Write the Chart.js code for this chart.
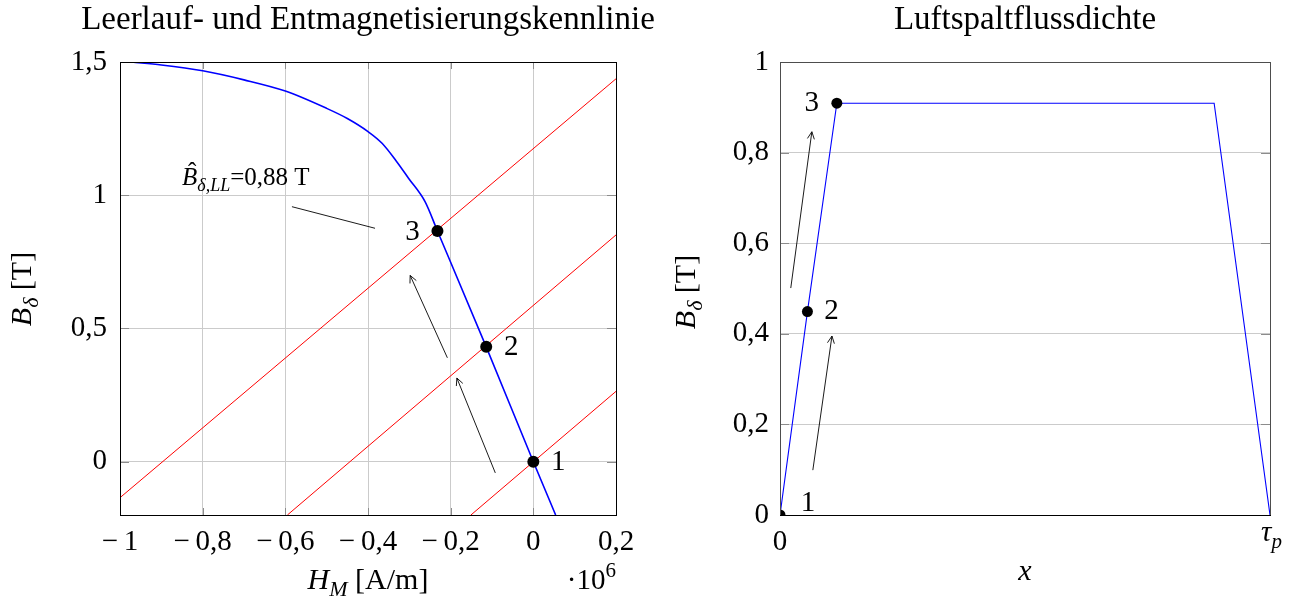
<!DOCTYPE html>
<html>
<head>
<meta charset="utf-8">
<script src="https://cdn.jsdelivr.net/npm/chart.js@4/dist/chart.umd.min.js"></script>
<style>
  html, body { margin: 0; padding: 0; background: #fff; }
  #wrap { position: relative; width: 1299px; height: 603px; }
  #left, #right { position: absolute; top: 0; }
  #left { left: 0; }
  #right { left: 650px; }
</style>
</head>
<body>
<div id="wrap">
  <canvas id="left" width="680" height="603"></canvas>
  <canvas id="right" width="649" height="603"></canvas>
</div>
<script>
const SERIF = '"Liberation Serif", "DejaVu Serif", serif';

// Entmagnetisierungskennlinie, H in 1e6 A/m, B in T
const hDemag = [-0.972, -0.9, -0.8, -0.7, -0.6, -0.5, -0.45, -0.4, -0.366, -0.33, -0.302, -0.262, -0.232, -0.114, 0, 0.054];
const bDemag = [1.5, 1.489, 1.467, 1.433, 1.391, 1.326, 1.288, 1.239, 1.195, 1.125, 1.064, 0.976, 0.866, 0.431, 0, -0.2];

// Arbeitsgeraden (Anfangs- und Endpunkt)
const hLine1 = [-0.151, 0.2];
const bLine1 = [-0.2, 0.264];
const hLine2 = [-0.595, 0.2];
const bLine2 = [-0.2, 0.851];
const hLine3 = [-1, 0.2];
const bLine3 = [-0.135, 1.437];

// Arbeitspunkte 1..3
const opNames = ['1', '2', '3'];
const hOp = [0, -0.114, -0.232];
const bOp = [0, 0.431, 0.866];

// Luftspaltflussdichte über x, x bezogen auf tau_p
const xGap = [0, 0.056, 0.116, 0.886, 1];
const bGap = [0, 0.449, 0.909, 0.909, 0];
const xGapOp = [0, 0.056, 0.116];
const bGapOp = [0, 0.449, 0.909];

// Achsenteilung
const demagTicksX = [-1, -0.8, -0.6, -0.4, -0.2, 0, 0.2];
const demagTicksY = [0, 0.5, 1, 1.5];
const gapTicksX = [0, 1];
const gapTicksY = [0, 0.2, 0.4, 0.6, 0.8, 1];

const xy = (xs, ys) => xs.map((x, i) => ({ x, y: ys[i] }));

function fmt(v) {
  const s = String(Math.round(Math.abs(v) * 10) / 10).replace('.', ',');
  return v < 0 ? '\u2212\u2009' + s : s;
}

// kleine Formelsatz-Hilfe: Folge von Textstücken, kursiv / tief- / hochgestellt
function fontOf(r, size) {
  const px = Math.round(r.sub || r.sup ? size * 0.72 : size);
  return (r.it ? 'italic ' : '') + px + 'px ' + SERIF;
}
function measure(ctx, runs, size) {
  let w = 0;
  runs.forEach(r => { ctx.font = fontOf(r, size); r.w = ctx.measureText(r.t).width; w += r.w; });
  return w;
}
function drawRuns(ctx, runs, x, y, size, align) {
  const w = measure(ctx, runs, size);
  if (align === 'center') x -= w / 2;
  if (align === 'right') x -= w;
  ctx.textAlign = 'left';
  ctx.textBaseline = 'alphabetic';
  runs.forEach(r => {
    ctx.font = fontOf(r, size);
    let dy = 0;
    if (r.sub) dy = size * 0.24;
    if (r.sup) dy = -size * 0.4;
    ctx.fillText(r.t, x, y + dy);
    if (r.hat) {
      ctx.font = size + 'px ' + SERIF;
      ctx.textAlign = 'center';
      ctx.fillText('\u02C6', x + r.w / 2 + size * 0.1, y - size * 0.2);
      ctx.textAlign = 'left';
    }
    x += r.w;
  });
  return w;
}
function drawRotated(ctx, runs, cx, cy, size) {
  ctx.save();
  ctx.translate(cx, cy);
  ctx.rotate(-Math.PI / 2);
  drawRuns(ctx, runs, 0, 0, size, 'center');
  ctx.restore();
}

function arrow(ctx, x0, y0, x1, y1, head) {
  ctx.beginPath();
  ctx.moveTo(x0, y0);
  ctx.lineTo(x1, y1);
  if (head) {
    const a = Math.atan2(y1 - y0, x1 - x0), L = 8;
    ctx.moveTo(x1 - L * Math.cos(a - 0.45), y1 - L * Math.sin(a - 0.45));
    ctx.lineTo(x1, y1);
    ctx.lineTo(x1 - L * Math.cos(a + 0.45), y1 - L * Math.sin(a + 0.45));
  }
  ctx.stroke();
}

// Rahmen, innenliegende Teilstriche, Pfeile, Punktnummern und Beschriftungen
const decor = {
  id: 'decor',
  afterDraw(chart, args, o) {
    const ctx = chart.ctx, a = chart.chartArea;
    const sx = chart.scales.x, sy = chart.scales.y;
    ctx.save();

    ctx.lineWidth = 1;
    ctx.strokeStyle = '#8c8c8c';
    ctx.beginPath();
    if (o.innerTicksX) sx.ticks.forEach(t => {
      const p = Math.round(sx.getPixelForValue(t.value)) + 0.5;
      ctx.moveTo(p, a.top); ctx.lineTo(p, a.top + 7);
      ctx.moveTo(p, a.bottom); ctx.lineTo(p, a.bottom - 7);
    });
    sy.ticks.forEach(t => {
      const p = Math.round(sy.getPixelForValue(t.value)) + 0.5;
      ctx.moveTo(a.left, p); ctx.lineTo(a.left + 9, p);
      ctx.moveTo(a.right, p); ctx.lineTo(a.right - 9, p);
    });
    ctx.stroke();

    ctx.strokeStyle = o.frame;
    ctx.strokeRect(Math.round(a.left) + 0.5, Math.round(a.top) + 0.5, Math.round(a.width), Math.round(a.height));
    ctx.strokeStyle = '#000';
    ctx.beginPath();
    ctx.moveTo(a.left, Math.round(a.bottom) + 0.5);
    ctx.lineTo(a.right + 1, Math.round(a.bottom) + 0.5);
    ctx.stroke();

    ctx.strokeStyle = '#000';
    ctx.lineWidth = 0.9;
    o.arrows.forEach(r => arrow(ctx,
      sx.getPixelForValue(r.from[0]), sy.getPixelForValue(r.from[1]),
      sx.getPixelForValue(r.to[0]), sy.getPixelForValue(r.to[1]), r.head));

    // Nummern an den Arbeitspunkten
    const ds = chart.data.datasets[0];
    const meta = chart.getDatasetMeta(0);
    ctx.fillStyle = '#000';
    ctx.font = '29px ' + SERIF;
    ctx.textAlign = 'center';
    ctx.textBaseline = 'middle';
    meta.data.forEach((pt, i) => {
      const off = o.nameOffsets[i];
      ctx.fillText(ds.names[i], pt.x + off[0], pt.y + off[1]);
    });

    o.texts(ctx, a);
    ctx.restore();
  }
};

function baseScales(ticksX, ticksY, fitLeft, fitBottom, gridX, padX, padY) {
  return {
    x: {
      type: 'linear',
      min: ticksX[0], max: ticksX[ticksX.length - 1],
      afterBuildTicks: s => { s.ticks = ticksX.map(v => ({ value: v })); },
      afterFit: s => { s.height = fitBottom; },
      ticks: { color: '#000', font: { family: SERIF, size: 29 }, padding: padX, maxRotation: 0, callback: fmt },
      grid: { display: gridX, color: '#cbcbcb', drawTicks: false },
      border: { display: false }
    },
    y: {
      type: 'linear',
      afterBuildTicks: s => { s.ticks = ticksY.map(v => ({ value: v })); },
      afterFit: s => { s.width = fitLeft; },
      ticks: { color: '#000', font: { family: SERIF, size: 29 }, padding: padY, callback: fmt },
      grid: { color: '#cbcbcb', drawTicks: false },
      border: { display: false }
    }
  };
}

const common = {
  responsive: false,
  animation: false,
  events: [],
  plugins: { legend: { display: false }, tooltip: { enabled: false } }
};

// linkes Diagramm
const leftScales = baseScales(demagTicksX, demagTicksY, 120, 88, true, 10, 13);
leftScales.y.min = -0.2;
leftScales.y.max = 1.5;

new Chart(document.getElementById('left'), {
  type: 'scatter',
  data: {
    datasets: [
      { label: 'Arbeitspunkte', names: opNames, data: xy(hOp, bOp), pointRadius: 6,
        pointBackgroundColor: '#000', pointBorderWidth: 0, order: 0 },
      { label: 'Kennlinie', data: xy(hDemag, bDemag), showLine: true, borderColor: '#0000ff',
        borderWidth: 1.6, pointRadius: 0, cubicInterpolationMode: 'monotone', order: 1 },
      { label: 'Gerade 1', data: xy(hLine1, bLine1), showLine: true, borderColor: '#ff0000', borderWidth: 1, pointRadius: 0, order: 2 },
      { label: 'Gerade 2', data: xy(hLine2, bLine2), showLine: true, borderColor: '#ff0000', borderWidth: 1, pointRadius: 0, order: 2 },
      { label: 'Gerade 3', data: xy(hLine3, bLine3), showLine: true, borderColor: '#ff0000', borderWidth: 1, pointRadius: 0, order: 2 }
    ]
  },
  options: Object.assign({}, common, {
    layout: { padding: { left: 0, right: 64, top: 62, bottom: 0 } },
    scales: leftScales,
    plugins: Object.assign({}, common.plugins, {
      decor: {
        frame: '#000',
        innerTicksX: true,
        nameOffsets: [[25, 1], [25, 1], [-25, 1]],
        arrows: [
          { from: [-0.208, 0.39], to: [-0.298, 0.699], head: true },
          { from: [-0.092, -0.042], to: [-0.185, 0.314], head: true },
          { from: [-0.584, 0.957], to: [-0.383, 0.876], head: false }
        ],
        texts(ctx, a) {
          ctx.fillStyle = '#000';
          const cx = (a.left + a.right) / 2;
          drawRuns(ctx, [{ t: 'Leerlauf- und Entmagnetisierungskennlinie' }], cx, 29, 33, 'center');
          drawRuns(ctx, [{ t: 'B', it: true, hat: true }, { t: 'δ,LL', it: true, sub: true }, { t: '=0,88 T' }], 182, 185, 25, 'left');
          drawRuns(ctx, [{ t: 'H', it: true }, { t: 'M', it: true, sub: true }, { t: ' [A/m]' }], cx, 589, 30, 'center');
          drawRuns(ctx, [{ t: '·10' }, { t: '6', sup: true }], a.right, 589, 29, 'right');
          drawRotated(ctx, [{ t: 'B', it: true }, { t: 'δ', it: true, sub: true }, { t: ' [T]' }], 31, 289, 30);
        }
      }
    })
  }),
  plugins: [decor]
});

// rechtes Diagramm
const rightScales = baseScales(gapTicksX, gapTicksY, 130, 88, false, 10, 11);
rightScales.y.min = 0;
rightScales.y.max = 1;
rightScales.x.ticks.callback = v => (v === 0 ? '0' : '');

new Chart(document.getElementById('right'), {
  type: 'scatter',
  data: {
    datasets: [
      { label: 'Arbeitspunkte', names: opNames, data: xy(xGapOp, bGapOp), pointRadius: 5.5,
        pointBackgroundColor: '#000', pointBorderWidth: 0, clip: 0, order: 0 },
      { label: 'Luftspaltflussdichte', data: xy(xGap, bGap), showLine: true, borderColor: '#0000ff',
        borderWidth: 1.1, pointRadius: 0, order: 1 }
    ]
  },
  options: Object.assign({}, common, {
    layout: { padding: { left: 0, right: 29, top: 62, bottom: 0 } },
    scales: rightScales,
    plugins: Object.assign({}, common.plugins, {
      decor: {
        frame: '#4d4d4d',
        innerTicksX: false,
        nameOffsets: [[28, -12], [24, 0], [-25, 0]],
        arrows: [
          { from: [0.022, 0.501], to: [0.065, 0.846], head: true },
          { from: [0.067, 0.099], to: [0.106, 0.395], head: true }
        ],
        texts(ctx, a) {
          ctx.fillStyle = '#000';
          const cx = (a.left + a.right) / 2;
          drawRuns(ctx, [{ t: 'Luftspaltflussdichte' }], cx, 29, 33, 'center');
          drawRuns(ctx, [{ t: 'τ', it: true }, { t: 'p', it: true, sub: true }], a.right - 9, 541, 29, 'left');
          drawRuns(ctx, [{ t: 'x', it: true }], cx, 580, 30, 'center');
          drawRotated(ctx, [{ t: 'B', it: true }, { t: 'δ', it: true, sub: true }, { t: ' [T]' }], 45, 292, 30);
        }
      }
    })
  }),
  plugins: [decor]
});
</script>
</body>
</html>
